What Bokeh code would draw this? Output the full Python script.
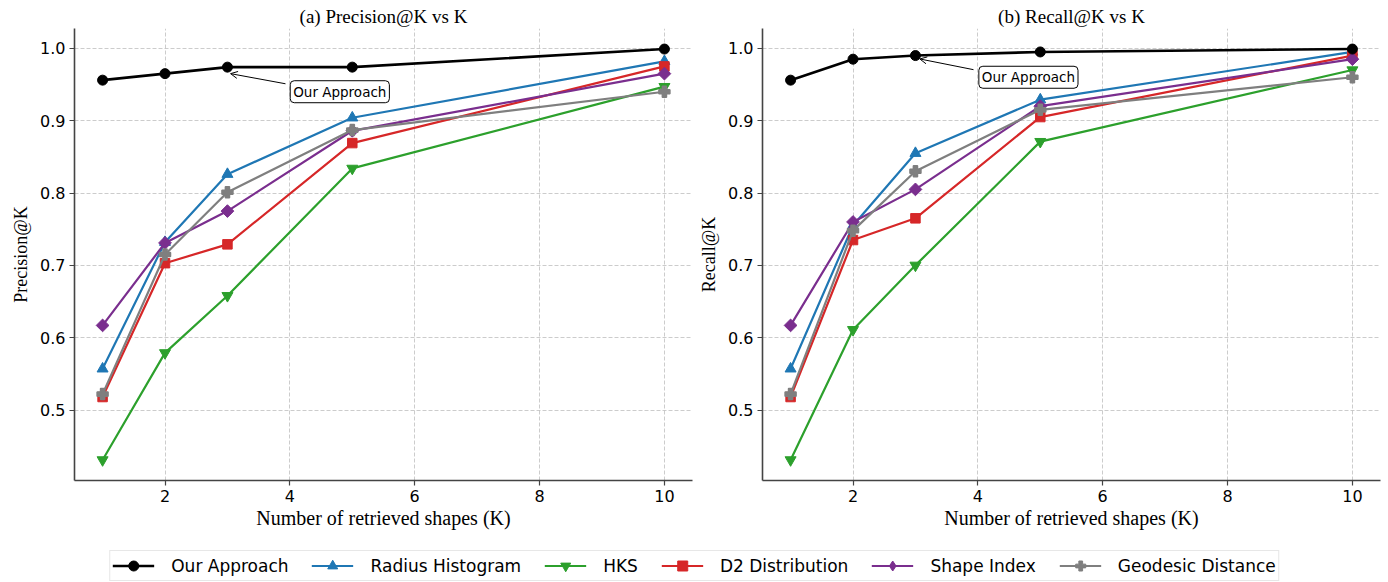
import math
from bokeh.plotting import figure
from bokeh.models import (Range1d, FixedTicker, Label, Arrow, OpenHead, Legend, LegendItem,
                          PrintfTickFormatter)
from bokeh.layouts import column, row
from bokeh.embed import file_html
from bokeh.resources import INLINE

K = [1, 2, 3, 5, 10]
methods = ["Our Approach", "Radius Histogram", "HKS", "D2 Distribution", "Shape Index", "Geodesic Distance"]

prec_ours = [0.956, 0.965, 0.974, 0.974, 0.999]
prec_radius = [0.557, 0.732, 0.826, 0.904, 0.982]
prec_hks = [0.431, 0.579, 0.658, 0.834, 0.947]
prec_d2 = [0.518, 0.703, 0.729, 0.869, 0.975]
prec_shape = [0.617, 0.731, 0.775, 0.886, 0.965]
prec_geo = [0.522, 0.715, 0.801, 0.887, 0.940]

rec_ours = [0.956, 0.985, 0.990, 0.995, 0.999]
rec_radius = [0.557, 0.755, 0.855, 0.929, 0.995]
rec_hks = [0.431, 0.611, 0.700, 0.871, 0.970]
rec_d2 = [0.518, 0.735, 0.765, 0.905, 0.990]
rec_shape = [0.617, 0.760, 0.805, 0.920, 0.985]
rec_geo = [0.522, 0.748, 0.830, 0.915, 0.960]

x_ticks = [2, 4, 6, 8, 10]
y_ticks = [0.5, 0.6, 0.7, 0.8, 0.9, 1.0]

colors = ["black", "#1f77b4", "#2ca02c", "#d62728", "#7a2e8e", "#7f7f7f"]
markers = ["circle", "triangle", "inverted_triangle", "square", "square", "plus"]
legend_markers = ["circle", "triangle", "inverted_triangle", "square", "diamond", "plus"]
angles = [0, 0, 0, 0, math.pi / 4, 0]
msizes = [10, 11, 11, 9.5, 9, 11]

SERIF = "Liberation Serif"
SANS = "DejaVu Sans"


def make_panel(title, ylabel, series, width, border_left, border_right):
    allv = [v for s in series for v in s]
    lo, hi = min(allv), max(allv)
    pad = (hi - lo) * 0.05
    xpad = (max(K) - min(K)) * 0.05
    p = figure(width=width, height=545, output_backend="svg", toolbar_location=None,
               x_range=Range1d(min(K) - xpad, max(K) + xpad),
               y_range=Range1d(lo - pad, hi + pad),
               min_border_left=border_left, min_border_right=border_right,
               min_border_top=28, min_border_bottom=65)
    p.title.text = title
    p.title.text_font = SERIF
    p.title.text_font_size = "19px"
    p.title.text_font_style = "normal"
    p.title.text_color = "black"
    p.title.align = "center"
    p.title.standoff = 3
    p.title.offset = 0
    p.outline_line_color = None
    for ax in (p.xaxis[0], p.yaxis[0]):
        ax.axis_line_color = "#444444"
        ax.axis_line_width = 1.6
        ax.major_tick_line_color = "#444444"
        ax.major_tick_line_width = 1.2
        ax.major_tick_out = 5
        ax.major_tick_in = 0
        ax.minor_tick_line_color = None
        ax.major_label_text_font = SANS
        ax.major_label_text_font_size = "16px"
        ax.major_label_text_color = "black"
        ax.axis_label_text_font = SERIF
        ax.axis_label_text_font_style = "normal"
        ax.axis_label_text_color = "black"
        ax.major_label_standoff = 4
    p.xaxis.ticker = FixedTicker(ticks=x_ticks)
    p.yaxis.ticker = FixedTicker(ticks=y_ticks)
    p.yaxis.formatter = PrintfTickFormatter(format="%.1f")
    p.xaxis.axis_label = "Number of retrieved shapes (K)"
    p.xaxis.axis_label_text_font_size = "20px"
    p.xaxis.axis_label_standoff = 2
    p.yaxis.axis_label = ylabel
    p.yaxis.axis_label_text_font_size = "18px"
    p.yaxis.axis_label_standoff = 6
    for g in (p.xgrid[0], p.ygrid[0]):
        g.grid_line_color = "#b8b8b8"
        g.grid_line_dash = "4 2"
        g.grid_line_width = 0.9
        g.grid_line_alpha = 0.8
    order = [1, 2, 3, 4, 5, 0]
    for i in order:
        s = series[i]
        lw = 2.6 if i == 0 else 2.2
        p.line(K, s, line_color=colors[i], line_width=lw)
        p.scatter(K, s, marker=markers[i], size=msizes[i], angle=angles[i],
                  fill_color=colors[i], line_color=colors[i],
                  line_width=1.5 if markers[i] == "plus" else 1)
    return p


prec_series = [prec_ours, prec_radius, prec_hks, prec_d2, prec_shape, prec_geo]
rec_series = [rec_ours, rec_radius, rec_hks, rec_d2, rec_shape, rec_geo]

p1 = make_panel("(a) Precision@K vs K", "Precision@K", prec_series, 696, 74, 4)
p2 = make_panel("(b) Recall@K vs K", "Recall@K", rec_series, 692, 66, 8)


def annotate(p, tx, ty, dx_text, dy_text, dx_start, dy_start, dx_end, dy_end):
    p.add_layout(Arrow(end=OpenHead(size=7, line_width=1, line_color="black"),
                       x_start=tx + dx_start, y_start=ty + dy_start,
                       x_end=tx + dx_end, y_end=ty + dy_end,
                       line_color="black", line_width=1))
    p.add_layout(Label(x=tx + dx_text, y=ty + dy_text, text="Our Approach",
                       text_font=SANS, text_font_size="13.5px", text_color="black",
                       text_align="center", text_baseline="middle",
                       background_fill_color="white", border_line_color="black",
                       border_line_width=1, border_radius=4, padding=3))


annotate(p1, K[2], prec_ours[2], 1.80, -0.034, 0.93, -0.023, 0.05, -0.009)
annotate(p2, K[2], rec_ours[2], 1.81, -0.030, 0.93, -0.0195, 0.07, -0.0047)

# legend strip (sample glyphs are drawn outside the visible range)
lf = figure(width=1388, height=37, output_backend="svg", toolbar_location=None,
            x_range=Range1d(100, 101), y_range=Range1d(100, 101),
            x_axis_type=None, y_axis_type=None, min_border=0)
lf.outline_line_color = None
lf.xgrid.visible = False
lf.ygrid.visible = False
items = []
for i, name in enumerate(methods):
    s = prec_series[i]
    rl = lf.line(K, s, line_color=colors[i], line_width=2.6 if i == 0 else 2.2)
    rs = lf.scatter(K, s, marker=legend_markers[i], size=msizes[i],
                    fill_color=colors[i], line_color=colors[i])
    items.append(LegendItem(label=name, renderers=[rl, rs]))
leg = Legend(items=items, orientation="horizontal", location="bottom_center",
             label_text_font=SANS, label_text_font_size="17px", label_text_color="black",
             glyph_width=42, glyph_height=25, label_standoff=17, spacing=23,
             padding=2, margin=1, border_line_color="#d0d0d0", border_line_width=1,
             background_fill_color="white")
lf.add_layout(leg, "center")

layout = column(row(p1, p2), lf)
open("out.html", "w").write(file_html(layout, INLINE))
